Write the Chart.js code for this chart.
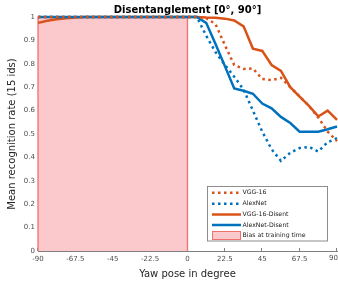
<!DOCTYPE html>
<html>
<head>
<meta charset="utf-8">
<script src="https://cdn.jsdelivr.net/npm/chart.js@4.4.0/dist/chart.umd.min.js"></script>
<style>
  html, body { margin: 0; padding: 0; background: #fff; }
  #wrap { width: 338px; height: 283px; position: relative; }
</style>
</head>
<body>
<div id="wrap"><canvas id="chart"></canvas></div>
<script>
// Yaw angles (degrees) where recognition rate was measured
const yawAngles = [-90, -84.375, -78.75, -73.125, -67.5, -61.875, -56.25, -50.625, -45,
  -39.375, -33.75, -28.125, -22.5, -16.875, -11.25, -5.625, 0,
  5.625, 11.25, 16.875, 22.5, 28.125, 33.75, 39.375, 45,
  50.625, 56.25, 61.875, 67.5, 73.125, 78.75, 84.375, 90];

const vgg16 = [1, 1, 1, 1, 1, 1, 1, 1, 1, 1, 1, 1, 1, 1, 1, 1, 1,
  1, 0.995, 0.97, 0.88, 0.795, 0.778, 0.78, 0.735, 0.73, 0.74, 0.70, 0.66, 0.62, 0.57, 0.51, 0.47];

const alexNet = [1, 1, 1, 1, 1, 1, 1, 1, 1, 1, 1, 1, 1, 1, 1, 1, 1,
  1, 0.92, 0.85, 0.795, 0.745, 0.69, 0.60, 0.51, 0.435, 0.385, 0.42, 0.44, 0.445, 0.425, 0.465, 0.482];

const vgg16Disent = [0.975, 0.984, 0.99, 0.995, 0.998, 1, 1, 1, 1, 1, 1, 1, 1, 1, 1, 1, 1,
  1, 0.998, 0.997, 0.993, 0.985, 0.96, 0.865, 0.855, 0.795, 0.77, 0.70, 0.66, 0.62, 0.575, 0.60, 0.56];

const alexNetDisent = [1, 1, 1, 1, 1, 1, 1, 1, 1, 1, 1, 1, 1, 1, 1, 1, 1,
  1, 0.975, 0.885, 0.79, 0.695, 0.685, 0.672, 0.63, 0.61, 0.573, 0.547, 0.51, 0.51, 0.51, 0.52, 0.532];

// Training-time bias region (yaw range)
const biasRange = [-90, 0];

const seriesNames = ['VGG-16', 'AlexNet', 'VGG-16-Disent', 'AlexNet-Disent', 'Bias at training time'];
const xTicks = [-90, -67.5, -45, -22.5, 0, 22.5, 45, 67.5, 90];
const yTicks = [0, 0.1, 0.2, 0.3, 0.4, 0.5, 0.6, 0.7, 0.8, 0.9, 1];

const ORANGE = '#D95319';
const BLUE = '#0072BD';
const BIAS_FILL = '#fbc9cc';
const BIAS_EDGE = '#f07070';
const DOTS = [2.5, 3.5];
const TICK_FONT = '7px "DejaVu Sans"';

Chart.defaults.font.family = 'DejaVu Sans';

function toPoints(values) {
    return yawAngles.map((x, i) => ({ x: x, y: values[i] }));
}

function lineSet(label, values, color, dashed, order) {
    return {
        label: label,
        data: toPoints(values),
        borderColor: color,
        borderWidth: 2.5,
        borderDash: dashed ? DOTS : [],
        borderCapStyle: 'butt',
        pointRadius: 0,
        tension: 0,
        fill: false,
        clip: 5,
        order: order
    };
}

// title, inward x ticks, last tick label and boxed legend like the original figure
const figureExtras = {
    id: 'figureExtras',
    beforeDatasetsDraw(chart) {
        const ctx = chart.ctx;
        const xs = chart.scales.x;
        const bottom = chart.chartArea.bottom;
        ctx.save();
        ctx.strokeStyle = '#808080';
        ctx.lineWidth = 1;
        xTicks.forEach(v => {
            const px = Math.round(xs.getPixelForValue(v)) - 0.5;
            ctx.beginPath();
            ctx.moveTo(px, bottom);
            ctx.lineTo(px, bottom - 3);
            ctx.stroke();
        });
        ctx.restore();
    },
    afterDraw(chart) {
        const ctx = chart.ctx;
        const area = chart.chartArea;
        const xs = chart.scales.x;
        ctx.save();

        // last x tick label, kept inside the canvas
        const last = xTicks[xTicks.length - 1];
        ctx.fillStyle = '#4d4d4d';
        ctx.font = TICK_FONT;
        ctx.textAlign = 'center';
        ctx.textBaseline = 'top';
        ctx.fillText(String(last), Math.min(xs.getPixelForValue(last), 333.5), area.bottom + 4);

        // title
        ctx.fillStyle = '#000';
        ctx.font = 'bold 10px "DejaVu Sans"';
        ctx.textBaseline = 'middle';
        ctx.fillText('Disentanglement [0°, 90°]', (area.left + area.right) / 2, 10);

        // legend
        const bx = 207.5, by = 186.5, bw = 120, bh = 54.5;
        ctx.fillStyle = '#fff';
        ctx.fillRect(bx, by, bw, bh);
        ctx.strokeStyle = '#8c8c8c';
        ctx.lineWidth = 1;
        ctx.strokeRect(bx, by, bw, bh);

        const rowsY = [192.7, 203.7, 214.5, 225, 235.5];
        const styles = [
            { color: ORANGE, dash: DOTS },
            { color: BLUE, dash: DOTS },
            { color: ORANGE, dash: [] },
            { color: BLUE, dash: [] }
        ];
        ctx.font = '6.2px "DejaVu Sans"';
        ctx.textAlign = 'left';
        styles.forEach((s, i) => {
            ctx.strokeStyle = s.color;
            ctx.lineWidth = 2.5;
            ctx.setLineDash(s.dash);
            ctx.beginPath();
            ctx.moveTo(212, rowsY[i]);
            ctx.lineTo(241, rowsY[i]);
            ctx.stroke();
            ctx.setLineDash([]);
            ctx.fillStyle = '#222';
            ctx.fillText(seriesNames[i], 242.5, rowsY[i]);
        });
        ctx.fillStyle = BIAS_FILL;
        ctx.fillRect(212.5, 231.5, 28, 8);
        ctx.strokeStyle = BIAS_EDGE;
        ctx.lineWidth = 1;
        ctx.strokeRect(212.5, 231.5, 28, 8);
        ctx.fillStyle = '#222';
        ctx.fillText(seriesNames[4], 242.5, rowsY[4]);

        ctx.restore();
    }
};

const canvas = document.getElementById('chart');
const chart = new Chart(canvas.getContext('2d'), {
    type: 'line',
    data: {
        datasets: [
            lineSet(seriesNames[0], vgg16, ORANGE, true, 1),
            lineSet(seriesNames[1], alexNet, BLUE, true, 2),
            lineSet(seriesNames[3], alexNetDisent, BLUE, false, 3),
            lineSet(seriesNames[2], vgg16Disent, ORANGE, false, 4),
            {
                label: seriesNames[4],
                data: [
                    { x: biasRange[0], y: 0 }, { x: biasRange[0], y: 1 },
                    { x: biasRange[1], y: 1 }, { x: biasRange[1], y: 0 }
                ],
                borderColor: BIAS_EDGE,
                borderWidth: 1.3,
                backgroundColor: BIAS_FILL,
                fill: 'origin',
                pointRadius: 0,
                tension: 0,
                clip: 2,
                order: 5
            }
        ]
    },
    options: {
        responsive: true,
        maintainAspectRatio: false,
        animation: false,
        events: [],
        layout: { padding: { top: 17, right: 0, left: 0, bottom: 0 } },
        plugins: {
            legend: { display: false },
            tooltip: { enabled: false },
            title: { display: false }
        },
        scales: {
            x: {
                type: 'linear',
                min: -90,
                max: 90,
                afterBuildTicks: s => { s.ticks = xTicks.map(v => ({ value: v })); },
                afterFit: s => { s.height = 32; s.paddingRight = 1; },
                grid: { display: false, drawTicks: false, tickLength: 0 },
                border: { display: true, color: '#808080' },
                ticks: {
                    padding: 4,
                    maxRotation: 0,
                    autoSkip: false,
                    color: '#4d4d4d',
                    font: { size: 7 },
                    callback: v => (v === xTicks[xTicks.length - 1] ? '' : String(v))
                },
                title: {
                    display: true,
                    text: 'Yaw pose in degree',
                    color: '#262626',
                    font: { size: 10 },
                    padding: { top: 0, bottom: 3 }
                }
            },
            y: {
                min: 0,
                max: 1,
                afterBuildTicks: s => { s.ticks = yTicks.map(v => ({ value: v })); },
                afterFit: s => { s.width = 38; },
                grid: { display: false, drawTicks: false, tickLength: 0 },
                border: { display: true, color: '#808080' },
                ticks: {
                    padding: 3,
                    autoSkip: false,
                    color: '#4d4d4d',
                    font: { size: 7 },
                    callback: v => String(Math.round(v * 10) / 10)
                },
                title: {
                    display: true,
                    text: 'Mean recognition rate (15 ids)',
                    color: '#262626',
                    font: { size: 10 },
                    padding: { top: 6, bottom: 2 }
                }
            }
        }
    },
    plugins: [figureExtras]
});
</script>
</body>
</html>
